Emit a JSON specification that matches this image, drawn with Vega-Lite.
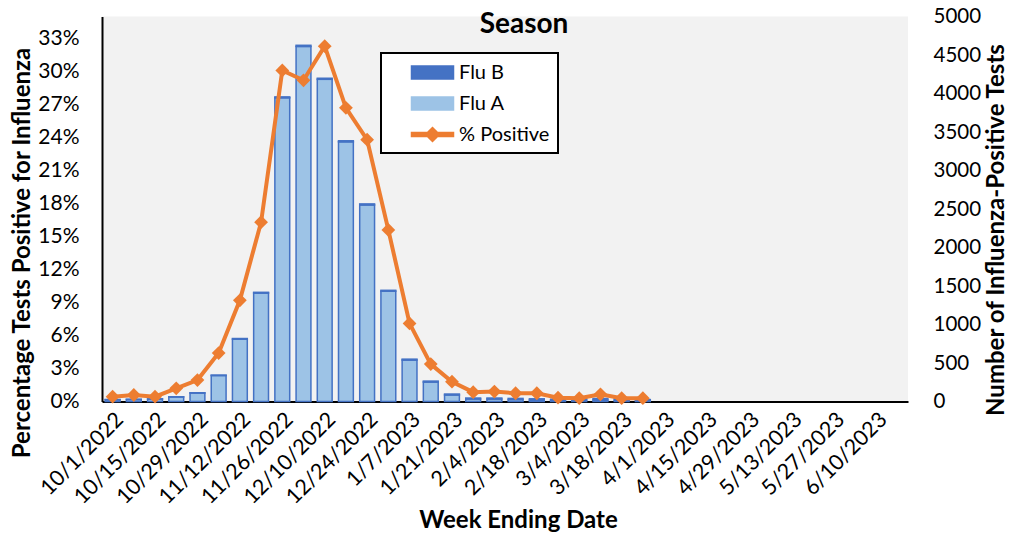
{
  "$schema": "https://vega.github.io/schema/vega-lite/v6.json",
  "width": 806,
  "height": 385,
  "autosize": {"type": "none"},
  "padding": {"left": 102, "top": 16.5, "right": 101, "bottom": 131.5},
  "background": "white",
  "config": {
    "view": {"fill": "#F2F2F2", "stroke": null},
    "font": "Lato",
    "axis": {"labelFont": "Lato", "titleFont": "Lato", "labelColor": "#000000", "titleColor": "#000000", "grid": false, "ticks": false}
  },
  "title": {"text": "Season", "fontSize": 28, "fontWeight": "bold", "font": "Lato", "color": "#000000", "anchor": "middle", "frame": "group", "dx": 19, "offset": -32},
  "datasets": {
    "counts": [
      {"week": "10/1/2022", "series": "Flu A", "count": 22}, {"week": "10/1/2022", "series": "Flu B", "count": 3},
      {"week": "10/8/2022", "series": "Flu A", "count": 27}, {"week": "10/8/2022", "series": "Flu B", "count": 3},
      {"week": "10/15/2022", "series": "Flu A", "count": 31}, {"week": "10/15/2022", "series": "Flu B", "count": 4},
      {"week": "10/22/2022", "series": "Flu A", "count": 58}, {"week": "10/22/2022", "series": "Flu B", "count": 4},
      {"week": "10/29/2022", "series": "Flu A", "count": 109}, {"week": "10/29/2022", "series": "Flu B", "count": 5},
      {"week": "11/5/2022", "series": "Flu A", "count": 337}, {"week": "11/5/2022", "series": "Flu B", "count": 6},
      {"week": "11/12/2022", "series": "Flu A", "count": 810}, {"week": "11/12/2022", "series": "Flu B", "count": 8},
      {"week": "11/19/2022", "series": "Flu A", "count": 1408}, {"week": "11/19/2022", "series": "Flu B", "count": 10},
      {"week": "11/26/2022", "series": "Flu A", "count": 3944}, {"week": "11/26/2022", "series": "Flu B", "count": 12},
      {"week": "12/3/2022", "series": "Flu A", "count": 4612}, {"week": "12/3/2022", "series": "Flu B", "count": 14},
      {"week": "12/10/2022", "series": "Flu A", "count": 4184}, {"week": "12/10/2022", "series": "Flu B", "count": 14},
      {"week": "12/17/2022", "series": "Flu A", "count": 3372}, {"week": "12/17/2022", "series": "Flu B", "count": 14},
      {"week": "12/24/2022", "series": "Flu A", "count": 2553}, {"week": "12/24/2022", "series": "Flu B", "count": 13},
      {"week": "12/31/2022", "series": "Flu A", "count": 1432}, {"week": "12/31/2022", "series": "Flu B", "count": 12},
      {"week": "1/7/2023", "series": "Flu A", "count": 538}, {"week": "1/7/2023", "series": "Flu B", "count": 12},
      {"week": "1/14/2023", "series": "Flu A", "count": 252}, {"week": "1/14/2023", "series": "Flu B", "count": 13},
      {"week": "1/21/2023", "series": "Flu A", "count": 85}, {"week": "1/21/2023", "series": "Flu B", "count": 12},
      {"week": "1/28/2023", "series": "Flu A", "count": 33}, {"week": "1/28/2023", "series": "Flu B", "count": 12},
      {"week": "2/4/2023", "series": "Flu A", "count": 32}, {"week": "2/4/2023", "series": "Flu B", "count": 13},
      {"week": "2/11/2023", "series": "Flu A", "count": 26}, {"week": "2/11/2023", "series": "Flu B", "count": 14},
      {"week": "2/18/2023", "series": "Flu A", "count": 20}, {"week": "2/18/2023", "series": "Flu B", "count": 15},
      {"week": "2/25/2023", "series": "Flu A", "count": 15}, {"week": "2/25/2023", "series": "Flu B", "count": 15},
      {"week": "3/4/2023", "series": "Flu A", "count": 18}, {"week": "3/4/2023", "series": "Flu B", "count": 17},
      {"week": "3/11/2023", "series": "Flu A", "count": 20}, {"week": "3/11/2023", "series": "Flu B", "count": 20},
      {"week": "3/18/2023", "series": "Flu A", "count": 17}, {"week": "3/18/2023", "series": "Flu B", "count": 18},
      {"week": "3/25/2023", "series": "Flu A", "count": 12}, {"week": "3/25/2023", "series": "Flu B", "count": 13}
    ],
    "pct": [
      {"week": "10/1/2022", "series": "% Positive", "pct": 0.0044},
      {"week": "10/8/2022", "series": "% Positive", "pct": 0.0059},
      {"week": "10/15/2022", "series": "% Positive", "pct": 0.0044},
      {"week": "10/22/2022", "series": "% Positive", "pct": 0.012},
      {"week": "10/29/2022", "series": "% Positive", "pct": 0.0195},
      {"week": "11/5/2022", "series": "% Positive", "pct": 0.044},
      {"week": "11/12/2022", "series": "% Positive", "pct": 0.092},
      {"week": "11/19/2022", "series": "% Positive", "pct": 0.163},
      {"week": "11/26/2022", "series": "% Positive", "pct": 0.301},
      {"week": "12/3/2022", "series": "% Positive", "pct": 0.292},
      {"week": "12/10/2022", "series": "% Positive", "pct": 0.323},
      {"week": "12/17/2022", "series": "% Positive", "pct": 0.267},
      {"week": "12/24/2022", "series": "% Positive", "pct": 0.238},
      {"week": "12/31/2022", "series": "% Positive", "pct": 0.156},
      {"week": "1/7/2023", "series": "% Positive", "pct": 0.071},
      {"week": "1/14/2023", "series": "% Positive", "pct": 0.034},
      {"week": "1/21/2023", "series": "% Positive", "pct": 0.018},
      {"week": "1/28/2023", "series": "% Positive", "pct": 0.0085},
      {"week": "2/4/2023", "series": "% Positive", "pct": 0.009},
      {"week": "2/11/2023", "series": "% Positive", "pct": 0.0075},
      {"week": "2/18/2023", "series": "% Positive", "pct": 0.0075},
      {"week": "2/25/2023", "series": "% Positive", "pct": 0.0035},
      {"week": "3/4/2023", "series": "% Positive", "pct": 0.003},
      {"week": "3/11/2023", "series": "% Positive", "pct": 0.0065},
      {"week": "3/18/2023", "series": "% Positive", "pct": 0.003},
      {"week": "3/25/2023", "series": "% Positive", "pct": 0.003}
    ]
  },
  "encoding": {
    "x": {
      "field": "week", "type": "nominal", "sort": null,
      "scale": {
        "domain": ["10/1/2022","10/8/2022","10/15/2022","10/22/2022","10/29/2022","11/5/2022","11/12/2022","11/19/2022","11/26/2022","12/3/2022","12/10/2022","12/17/2022","12/24/2022","12/31/2022","1/7/2023","1/14/2023","1/21/2023","1/28/2023","2/4/2023","2/11/2023","2/18/2023","2/25/2023","3/4/2023","3/11/2023","3/18/2023","3/25/2023","4/1/2023","4/8/2023","4/15/2023","4/22/2023","4/29/2023","5/6/2023","5/13/2023","5/20/2023","5/27/2023","6/3/2023","6/10/2023","6/17/2023"],
        "paddingInner": 0.3, "paddingOuter": 0.15
      },
      "axis": {
        "values": ["10/1/2022","10/15/2022","10/29/2022","11/12/2022","11/26/2022","12/10/2022","12/24/2022","1/7/2023","1/21/2023","2/4/2023","2/18/2023","3/4/2023","3/18/2023","4/1/2023","4/15/2023","4/29/2023","5/13/2023","5/27/2023","6/10/2023"],
        "labelAngle": -45, "labelFontSize": 21.5, "labelPadding": 7,
        "domainColor": "#000000", "domainWidth": 2,
        "title": "Week Ending Date", "titleFontSize": 24, "titleFontWeight": "bold",
        "titleX": 416, "titleY": 107, "titleBaseline": "top", "titleAnchor": null
      }
    },
    "color": {
      "field": "series", "type": "nominal",
      "scale": {"domain": ["Flu B", "Flu A", "% Positive"], "range": ["#4472C4", "#9DC3E6", "#ED7D31"]},
      "legend": {
        "title": null, "orient": "none", "legendX": 279, "legendY": 36.5,
        "fillColor": "#FFFFFF", "strokeColor": "#000000",
        "padding": 8, "symbolSize": 441, "symbolOffset": 32, "labelOffset": 15,
        "labelFontSize": 20, "labelFont": "Lato", "labelColor": "#000000", "rowPadding": 9,
        "labelExpr": "datum.label + '\u2002\u2002'",
        "encode": {
          "legend": {"update": {"strokeWidth": {"value": 2}}},
          "symbols": {
            "update": {
              "shape": {"signal": "datum.value === '% Positive' ? 'M-2,-0.19H-0.48L0,-0.67L0.48,-0.19H2V0.19H0.48L0,0.67L-0.48,0.19H-2Z' : 'M-2,-0.62H2V0.62H-2Z'"},
              "fill": {"signal": "datum.value === '% Positive' ? '#ED7D31' : datum.value === 'Flu A' ? '#9DC3E6' : '#4472C4'"},
              "stroke": {"signal": "datum.value === '% Positive' ? '#ED7D31' : '#4472C4'"},
              "strokeWidth": {"value": 1.5},
              "opacity": {"value": 1}
            }
          }
        }
      }
    }
  },
  "layer": [
    {
      "data": {"name": "counts"},
      "mark": {"type": "bar", "stroke": "#4472C4", "strokeWidth": 1.5},
      "encoding": {
        "y": {
          "field": "count", "type": "quantitative", "stack": "zero",
          "scale": {"domain": [0, 5000], "nice": false},
          "axis": {
            "orient": "right", "values": [0,500,1000,1500,2000,2500,3000,3500,4000,4500,5000], "format": "d",
            "domain": false, "labelFontSize": 20.5, "labelPadding": 25,
            "title": "Number of Influenza-Positive Tests", "titleFontSize": 24, "titleFontWeight": "bold",
            "titleAngle": -90, "titleX": 88, "titleY": 213, "titleAnchor": null, "titleBaseline": "middle"
          }
        },
        "order": {"field": "series", "sort": "ascending"}
      }
    },
    {
      "data": {"name": "pct"},
      "encoding": {
        "y": {
          "field": "pct", "type": "quantitative",
          "scale": {"domain": [0, 0.35], "nice": false},
          "axis": {
            "orient": "left", "format": ".0%", "values": [0,0.03,0.06,0.09,0.12,0.15,0.18,0.21,0.24,0.27,0.3,0.33],
            "domainColor": "#000000", "domainWidth": 2, "labelFontSize": 21, "labelPadding": 23,
            "title": "Percentage Tests Positive for Influenza", "titleFontSize": 24, "titleFontWeight": "bold",
            "titleX": -80, "titleY": 236, "titleAnchor": null, "titleBaseline": "middle"
          }
        }
      },
      "layer": [
        {"mark": {"type": "line", "strokeWidth": 4}},
        {"mark": {"type": "point", "shape": "diamond", "filled": true, "size": 190, "opacity": 1}}
      ]
    }
  ],
  "resolve": {"scale": {"y": "independent"}, "axis": {"y": "independent"}}
}
